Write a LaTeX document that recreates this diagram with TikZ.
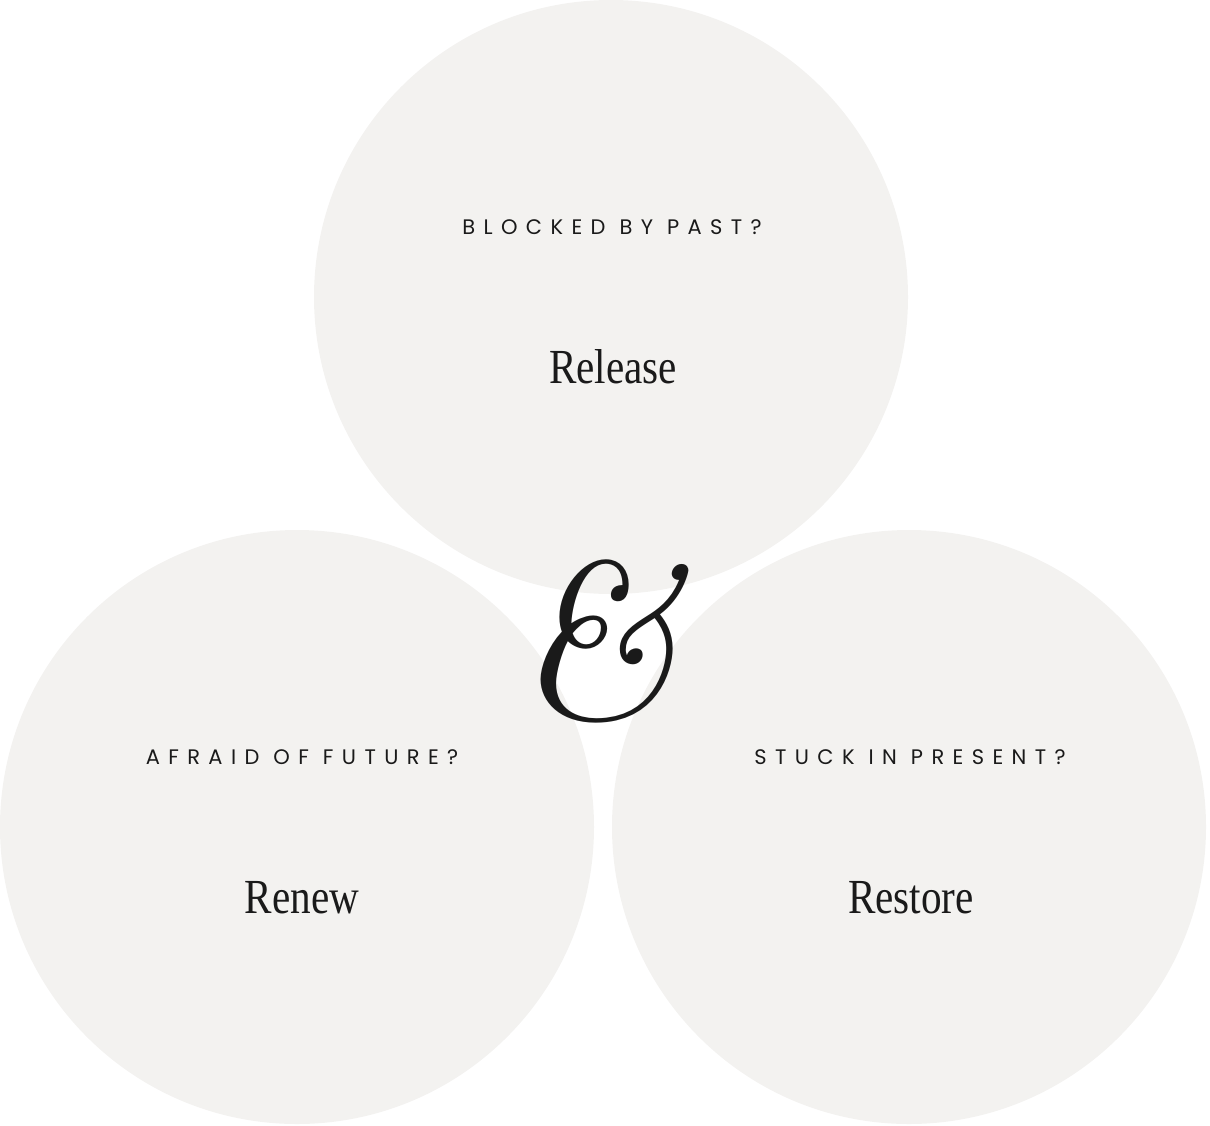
\documentclass[tikz,border=0pt]{standalone}
\usepackage{fontspec}
\newfontfamily\capsfont[LetterSpace=40]{Poppins}
\newfontfamily\answerfont{Liberation Serif}
\definecolor{circfill}{HTML}{F3F2F0}
\definecolor{ink}{HTML}{1A1A1A}
\tikzset{
  bubble/.style={circle, fill=circfill, draw=none, minimum size=594pt, inner sep=0pt},
  question/.style={anchor=base, text=ink, font=\capsfont\fontsize{21}{24}\selectfont, inner sep=0pt},
  answer/.style={anchor=base, text=ink, font=\answerfont\fontsize{49}{56}\selectfont, xscale=0.84, inner sep=0pt},
  ampersand/.style={text=ink, font=\rmfamily\itshape\fontsize{222}{222}\selectfont, inner sep=0pt},
}
\begin{document}
\begin{tikzpicture}[x=1pt,y=-1pt]
\useasboundingbox (0,0) rectangle (1210,1125);
\node[bubble] (top) at (611,297) {};
\node[bubble] (left) at (297,827) {};
\node[bubble] (right) at (909,827) {};
\node[question] (q1) at (612,234) {BLOCKED BY PAST?};
\node[answer] (a1) at (613,383) {Release};
\node[question] (q2) at (302,764) {AFRAID OF FUTURE?};
\node[answer] (a2) at (302,913) {Renew};
\node[question] (q3) at (910,764) {STUCK IN PRESENT?};
\node[answer] (a3) at (911,913) {Restore};
\node[ampersand] (amp) at (597,641) {\&};
\end{tikzpicture}
\end{document}
